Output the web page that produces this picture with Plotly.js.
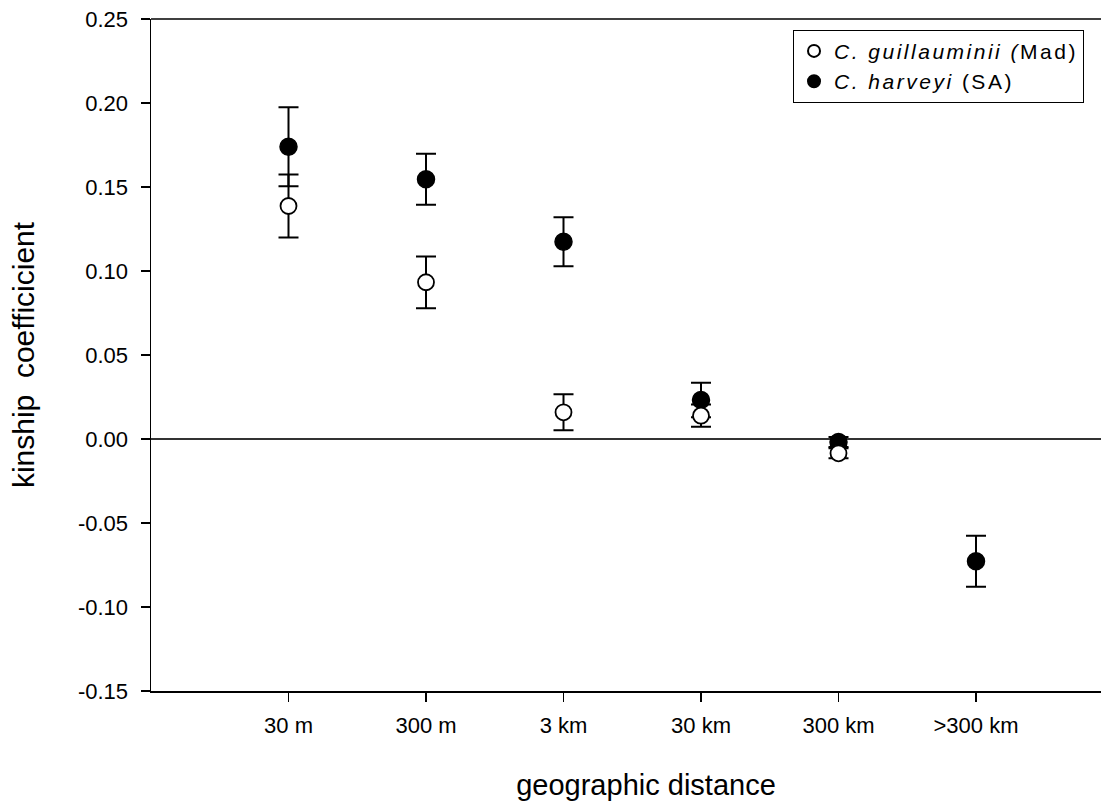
<!DOCTYPE html>
<html>
<head>
<meta charset="utf-8">
<script src="https://cdn.plot.ly/plotly-3.0.1.min.js"></script>
<style>
html,body{margin:0;padding:0;background:#fff;overflow:hidden;}
#wrap{width:1101px;height:807px;overflow:hidden;}
#chart{width:1141px;height:807px;}
.legendtext{letter-spacing:2.5px;}
</style>
</head>
<body>
<div id="wrap"><div id="chart"></div></div>
<script>
const categories = ["30 m", "300 m", "3 km", "30 km", "300 km", ">300 km"];
const positions = [0, 1, 2, 3, 4, 5];
const guillValues = [0.1387, 0.0933, 0.0159, 0.0139, -0.0085];
const guillErrors = [0.0187, 0.0154, 0.0107, 0.0066, 0.003];
const harvValues = [0.174, 0.1546, 0.1174, 0.0232, -0.0018, -0.0728];
const harvErrors = [0.0235, 0.0152, 0.0146, 0.0103, 0.003, 0.0152];
const yTicks = [-0.15, -0.10, -0.05, 0.00, 0.05, 0.10, 0.15, 0.20, 0.25];

const font = "Liberation Sans, Arial, sans-serif";

const harv = {
  x: positions.slice(0, harvValues.length), y: harvValues,
  type: "scatter", mode: "markers",
  name: "<i>C. harveyi</i> (SA)", legendrank: 2,
  marker: {symbol: "circle", size: 17, color: "#000", line: {color: "#000", width: 1.5}},
  error_y: {type: "data", array: harvErrors, visible: true, color: "#000", thickness: 2, width: 10}
};
const guill = {
  x: positions.slice(0, guillValues.length), y: guillValues,
  type: "scatter", mode: "markers",
  name: "<i>C. guillauminii (</i>Mad)", legendrank: 1,
  marker: {symbol: "circle", size: 16, color: "#fff", line: {color: "#000", width: 1.8}},
  error_y: {type: "data", array: guillErrors, visible: true, color: "#000", thickness: 2, width: 10}
};

const layout = {
  width: 1141, height: 807,
  margin: {l: 151, r: 0, t: 19, b: 116},
  paper_bgcolor: "#fff", plot_bgcolor: "#fff",
  font: {family: font, size: 22, color: "#000"},
  showlegend: true,
  legend: {
    x: 0.6485, y: 0.984, xanchor: "left", yanchor: "top",
    bordercolor: "#000", borderwidth: 1, bgcolor: "#fff",
    font: {family: font, size: 21, color: "#000"},
    itemsizing: "constant", tracegroupgap: 0
  },
  xaxis: {
    range: [-1, 6.2],
    tickmode: "array", tickvals: positions, ticktext: categories,
    ticks: "outside", ticklen: 9, tickwidth: 1.5, tickcolor: "#000",
    showline: true, linecolor: "#000", linewidth: 1.5,
    showgrid: false, zeroline: false,
    ticklabelstandoff: 5,
    tickfont: {family: font, size: 22, color: "#000"},
    title: {text: "geographic distance", font: {family: font, size: 29, color: "#000"}, standoff: 38}
  },
  yaxis: {
    range: [-0.15, 0.25],
    tickmode: "array", tickvals: yTicks, ticktext: yTicks.map(v => v.toFixed(2)),
    ticks: "outside", ticklen: 9, tickwidth: 1.5, tickcolor: "#000",
    showline: true, linecolor: "#000", linewidth: 1.5,
    showgrid: false, zeroline: true, zerolinecolor: "#333", zerolinewidth: 1.5,
    ticklabelstandoff: 8,
    tickfont: {family: font, size: 22, color: "#000"},
    title: {text: "kinship  coefficicient", font: {family: font, size: 30, color: "#000"}, standoff: 34}
  },
  shapes: [
    {type: "line", xref: "paper", yref: "paper", x0: 0, x1: 1, y0: 1, y1: 1, line: {color: "#000", width: 1.5}}
  ]
};

Plotly.newPlot("chart", [harv, guill], layout, {displayModeBar: false, staticPlot: true});
</script>
</body>
</html>
